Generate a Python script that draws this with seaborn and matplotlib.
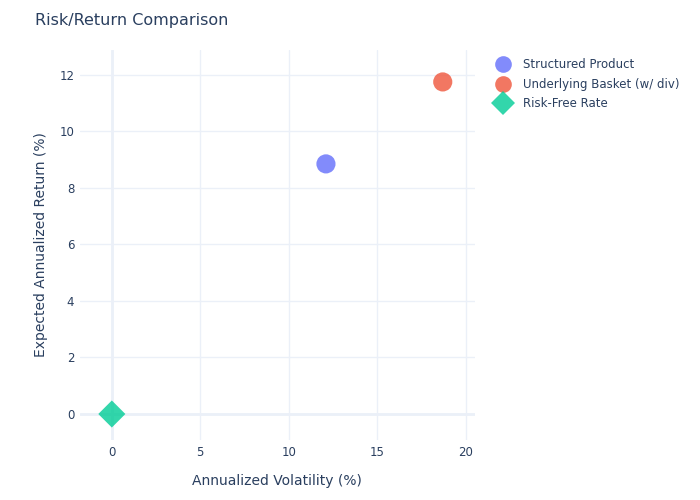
import pandas as pd
import seaborn as sns
import matplotlib.pyplot as plt

# Datos
series = ["Structured Product", "Underlying Basket (w/ div)", "Risk-Free Rate"]
volatilidad = [12.1, 18.7, 0.0]
retorno = [8.85, 11.75, 0.0]
colores = ["#636EFA", "#EF553B", "#00CC96"]
marcadores = ["o", "o", "D"]

df = pd.DataFrame({"serie": series, "vol": volatilidad, "ret": retorno})

sns.set_theme(style="white")
plt.rcParams['font.family'] = ['DejaVu Sans']
texto = "#2a3f5f"
grid = "#EBF0F8"

fig = plt.figure(figsize=(7, 5), dpi=100)
ax = fig.add_axes([0.114, 0.12, 0.564, 0.78])

ax.set_xlim(-1.81, 20.5)
ax.set_ylim(-0.92, 12.88)
ax.set_xticks([0, 5, 10, 15, 20])
ax.set_yticks([0, 2, 4, 6, 8, 10, 12])
ax.grid(True, color=grid, linewidth=1)
ax.axhline(0, color=grid, linewidth=2, zorder=1)
ax.axvline(0, color=grid, linewidth=2, zorder=1)
ax.set_axisbelow(True)

sns.scatterplot(
    data=df, x="vol", y="ret", hue="serie", style="serie",
    hue_order=series, style_order=series,
    palette=colores, markers=dict(zip(series, marcadores)),
    s=190, alpha=0.8, edgecolor="none", ax=ax, zorder=3
)

for s in ax.spines.values():
    s.set_visible(False)
ax.tick_params(colors=texto, labelsize=8.5, length=0, pad=4)
ax.set_xlabel("Annualized Volatility (%)", color=texto, fontsize=10, labelpad=11)
ax.set_ylabel("Expected Annualized Return (%)", color=texto, fontsize=10, labelpad=8)
fig.text(0.05, 0.96, "Risk/Return Comparison", color=texto, fontsize=11.5, va="center")

# Leyenda
handles, labels = ax.get_legend_handles_labels()
for h in handles:
    h.set_alpha(0.8)
    h.set_markersize(12)
ax.legend(handles, labels, loc="upper left", bbox_to_anchor=(1.02, 1.0),
          frameon=False, fontsize=8.5, labelcolor=texto,
          handletextpad=0.7, labelspacing=0.55, borderaxespad=0.3)

fig.savefig("out.png", dpi=100)
